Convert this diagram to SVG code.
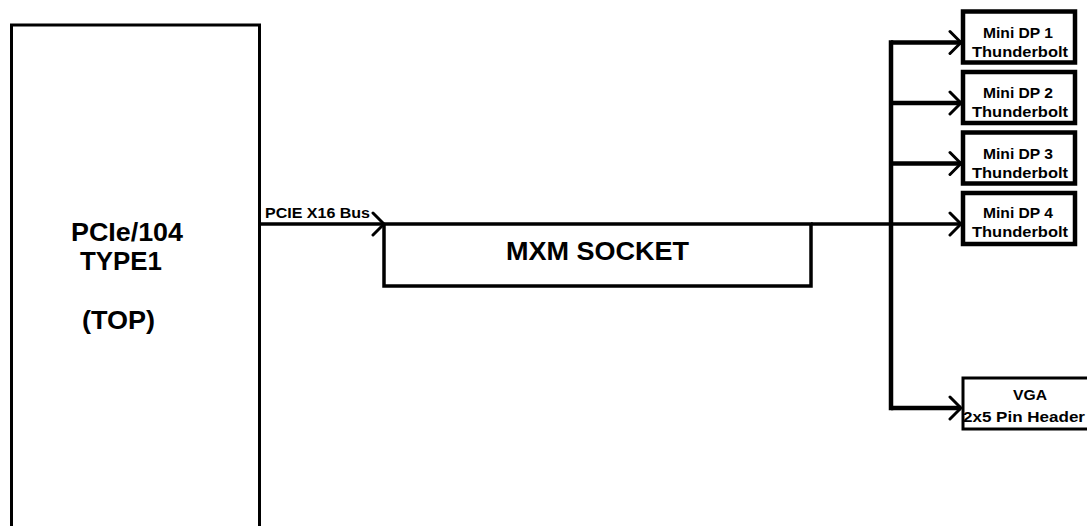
<svg xmlns="http://www.w3.org/2000/svg" width="1087" height="526" viewBox="0 0 1087 526">
<style>
.box{fill:#fff;stroke:#000;stroke-width:3}
.mxm{fill:#fff;stroke:#000;stroke-width:3.5}
.dp{fill:#fff;stroke:#000;stroke-width:4.5}
.big{font-family:"Liberation Sans",Arial,sans-serif;font-weight:bold;font-size:25px;fill:#000}
.sm{font-family:"Liberation Sans",Arial,sans-serif;font-weight:bold;font-size:14px;fill:#000}
.line{fill:none;stroke:#000;stroke-width:3.5}
.bus{fill:none;stroke:#000;stroke-width:4.5;stroke-linecap:square}
.br{fill:none;stroke:#000;stroke-width:4.5}
</style>
<defs>
<marker id="arr" markerUnits="userSpaceOnUse" viewBox="-14 -14 16 28" refX="0" refY="0" markerWidth="16" markerHeight="28" orient="auto">
<path d="M-11 -11 L0 0 L-11 11" fill="none" stroke="#000" stroke-width="3" stroke-linecap="round"/>
</marker>
</defs>
<rect width="1087" height="526" fill="#fff"/>
<g id="pcie104">
<rect class="box" x="11.5" y="25" width="248" height="520"/>
<text class="big" x="71" y="241" textLength="112" lengthAdjust="spacingAndGlyphs">PCIe/104</text>
<text class="big" x="80" y="270" textLength="82" lengthAdjust="spacingAndGlyphs">TYPE1</text>
<text class="big" x="82" y="329" textLength="73" lengthAdjust="spacingAndGlyphs">(TOP)</text>
</g>
<g id="connectors">
<path class="line" d="M261 224 H384" marker-end="url(#arr)"/>
<text class="sm" x="265" y="218" textLength="105" lengthAdjust="spacingAndGlyphs">PCIE X16 Bus</text>
<path class="line" d="M811 224 H961" marker-end="url(#arr)"/>
<path class="bus" d="M891 42.5 V408"/>
<path class="br" d="M891 42.5 H961" marker-end="url(#arr)"/>
<path class="br" d="M891 103 H961" marker-end="url(#arr)"/>
<path class="br" d="M891 163.5 H961" marker-end="url(#arr)"/>
<path class="br" d="M891 408 H961" marker-end="url(#arr)"/>
</g>
<g id="mxm">
<rect class="mxm" x="384" y="224" width="427" height="62"/>
<text class="big" x="597.5" y="260" text-anchor="middle" textLength="183" lengthAdjust="spacingAndGlyphs">MXM SOCKET</text>
</g>
<g id="dp1">
<rect class="dp" x="963" y="11.5" width="112" height="51"/>
<text class="sm" x="1018" y="37.5" text-anchor="middle" textLength="70" lengthAdjust="spacingAndGlyphs">Mini DP 1</text>
<text class="sm" x="1020" y="56.5" text-anchor="middle" textLength="96" lengthAdjust="spacingAndGlyphs">Thunderbolt</text>
</g>
<g id="dp2">
<rect class="dp" x="963" y="72" width="112" height="51"/>
<text class="sm" x="1018" y="98" text-anchor="middle" textLength="70" lengthAdjust="spacingAndGlyphs">Mini DP 2</text>
<text class="sm" x="1020" y="117" text-anchor="middle" textLength="96" lengthAdjust="spacingAndGlyphs">Thunderbolt</text>
</g>
<g id="dp3">
<rect class="dp" x="963" y="132.5" width="112" height="51"/>
<text class="sm" x="1018" y="158.5" text-anchor="middle" textLength="70" lengthAdjust="spacingAndGlyphs">Mini DP 3</text>
<text class="sm" x="1020" y="177.5" text-anchor="middle" textLength="96" lengthAdjust="spacingAndGlyphs">Thunderbolt</text>
</g>
<g id="dp4">
<rect class="dp" x="963" y="193" width="112" height="51"/>
<text class="sm" x="1018" y="218" text-anchor="middle" textLength="70" lengthAdjust="spacingAndGlyphs">Mini DP 4</text>
<text class="sm" x="1020" y="237" text-anchor="middle" textLength="96" lengthAdjust="spacingAndGlyphs">Thunderbolt</text>
</g>
<g id="vga">
<rect class="box" x="963" y="378" width="140" height="51"/>
<text class="sm" x="1030" y="399.5" text-anchor="middle" textLength="34" lengthAdjust="spacingAndGlyphs">VGA</text>
<text class="sm" x="963" y="421.5" textLength="122" lengthAdjust="spacingAndGlyphs">2x5 Pin Header</text>
</g>
</svg>
